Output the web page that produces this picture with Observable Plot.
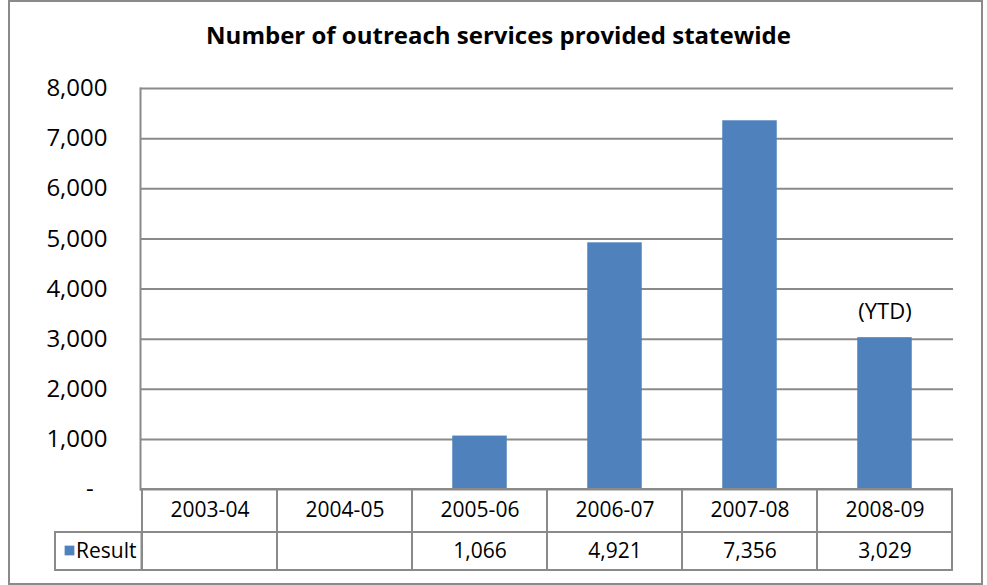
<!DOCTYPE html>
<html>
<head>
<meta charset="utf-8">
<script src="https://cdn.jsdelivr.net/npm/d3@7"></script>
<script src="https://cdn.jsdelivr.net/npm/@observablehq/plot@0.6"></script>
<style>
  html, body { margin: 0; padding: 0; background: #fff; }
  #wrap { position: relative; width: 987px; height: 585px; font-family: "Open Sans", sans-serif; }
  #border { position: absolute; left: 8px; top: 0px; width: 971px; height: 581px; border: 2px solid #8a8a8a; }
  #title { position: absolute; left: 10px; top: 18px; width: 977px; text-align: center; font-weight: bold; font-size: 24px; color: #000; }
  #chart { position: absolute; left: 0; top: 60px; }
</style>
</head>
<body>
<div id="wrap">
  <div id="border"></div>
  <div id="title">Number of outreach services provided statewide</div>
  <div id="chart"></div>
</div>
<script>
const categories = ["2003-04", "2004-05", "2005-06", "2006-07", "2007-08", "2008-09"];
const results = [null, null, 1066, 4921, 7356, 3029];
const yTicks = [0, 1000, 2000, 3000, 4000, 5000, 6000, 7000, 8000];
const seriesName = "Result";
const annotationLabel = "(YTD)";
const annotatedCategory = "2008-09";

const data = categories.map((c, i) => ({category: c, value: results[i]}));
const barData = data.filter(d => d.value != null);
const fmt = d3.format(",");
const gray = "#8a8a8a";
const blue = "#4F81BD";

const plot = Plot.plot({
  width: 987,
  height: 525,
  marginTop: 28,
  marginBottom: 96,
  marginLeft: 140,
  marginRight: 34,
  style: {fontFamily: "Open Sans, sans-serif", color: "#000", background: "transparent"},
  x: {domain: categories, padding: 0, axis: null},
  y: {domain: [0, 8000], axis: null},
  marks: [
    Plot.ruleY(yTicks, {stroke: gray, strokeWidth: 2}),
    Plot.frame({anchor: "left", stroke: gray, strokeWidth: 2}),
    Plot.axisY(yTicks, {
      label: null, tickSize: 0, tickPadding: 33, fontSize: 24,
      tickFormat: d => d === 0 ? "-\u2007" : fmt(d)
    }),
    Plot.barY(barData, {x: "category", y: "value", fill: blue, insetLeft: 40.25, insetRight: 40.25}),
    Plot.text(barData.filter(d => d.category === annotatedCategory), {
      x: "category", y: "value", text: () => annotationLabel, dy: -26, fontSize: 22, fill: "#000"
    }),
    // table row 1: category labels
    Plot.barY(categories, {x: d => d, y1: () => 0, y2: () => 0, insetBottom: -43, fill: "none", stroke: gray, strokeWidth: 2}),
    Plot.text(categories, {x: d => d, y: () => 0, dy: 21, fontSize: 21, fill: "#000"}),
    // table row 2: values
    Plot.barY(categories, {x: d => d, y1: () => 0, y2: () => 0, dy: 43, insetBottom: -38, fill: "none", stroke: gray, strokeWidth: 2}),
    Plot.text(barData, {x: "category", y: () => 0, dy: 62, text: d => fmt(d.value), fontSize: 21, fill: "#000"}),
    // legend cell
    Plot.barY([categories[0]], {x: d => d, y1: () => 0, y2: () => 0, dx: -87, dy: 43, insetRight: 48.5, insetBottom: -38, fill: "none", stroke: gray, strokeWidth: 2}),
    Plot.dot([categories[0]], {x: d => d, y: () => 0, dx: -140.5, dy: 61, symbol: "square", r: 5.5, fill: blue, stroke: "none"}),
    Plot.text([seriesName], {x: () => categories[0], y: () => 0, dx: -134, dy: 62, textAnchor: "start", fontSize: 21, fill: "#000"})
  ]
});
document.getElementById("chart").appendChild(plot);
</script>
</body>
</html>
